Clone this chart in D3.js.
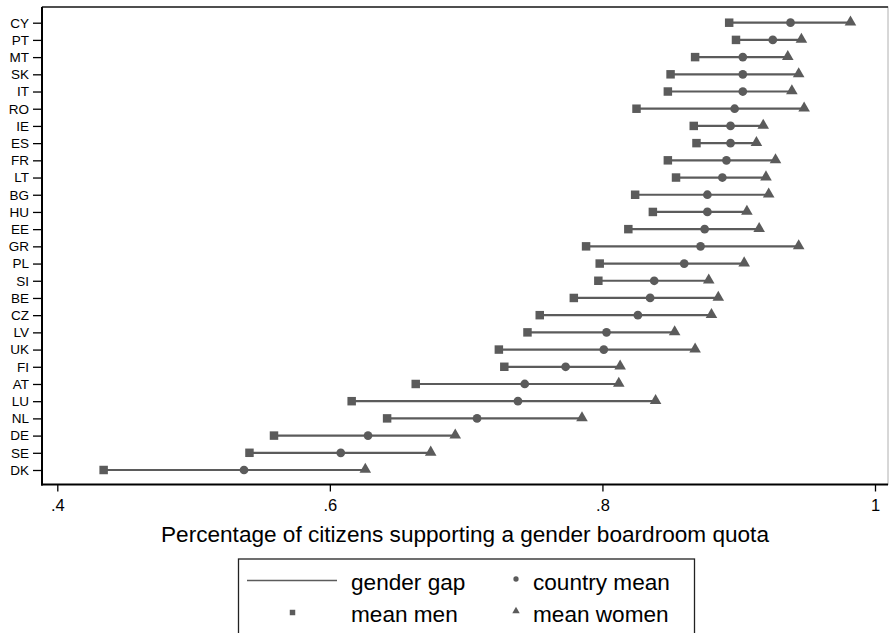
<!DOCTYPE html>
<html><head><meta charset="utf-8">
<script src="https://cdn.jsdelivr.net/npm/d3@7"></script>
<style>body{margin:0;background:#fff}svg{display:block}text{font-family:"Liberation Sans",Arial,Helvetica,sans-serif;fill:#000}</style>
</head><body><svg id="c" width="889" height="633"></svg>
<script>
const countries = ["CY","PT","MT","SK","IT","RO","IE","ES","FR","LT","BG","HU","EE","GR","PL","SI","BE","CZ","LV","UK","FI","AT","LU","NL","DE","SE","DK"];
const meanMen = [0.893,0.898,0.868,0.850,0.848,0.825,0.867,0.869,0.848,0.854,0.824,0.837,0.819,0.788,0.798,0.797,0.779,0.754,0.745,0.724,0.728,0.663,0.616,0.642,0.559,0.541,0.434];
const countryMean = [0.938,0.925,0.903,0.903,0.903,0.897,0.894,0.894,0.891,0.888,0.877,0.877,0.875,0.872,0.860,0.838,0.835,0.826,0.803,0.801,0.773,0.743,0.738,0.708,0.628,0.608,0.537];
const meanWomen = [0.982,0.946,0.936,0.944,0.939,0.948,0.918,0.913,0.927,0.920,0.922,0.906,0.915,0.944,0.904,0.878,0.885,0.880,0.853,0.868,0.813,0.812,0.839,0.785,0.692,0.674,0.626];
const xTicks = [0.4,0.6,0.8,1];
const xTickLabels = [".4",".6",".8","1"];
const xTitle = "Percentage of citizens supporting a gender boardroom quota";
const legendLabels = ["gender gap","country mean","mean men","mean women"];

const svg = d3.select("#c");
const col = "#5b5b5b";
const x = d3.scaleLinear().domain([0.4,1]).range([57.3,875]);
const y = d3.scalePoint().domain(countries).range([22.7,470]);
const L=42, R=888, T=7, B=484.5;

// frame
svg.append("rect").attr("x",L).attr("y",T).attr("width",R-L).attr("height",B-T)
  .attr("fill","#fff").attr("stroke","#b0b0b0").attr("stroke-width",1);
svg.append("line").attr("x1",L).attr("x2",R).attr("y1",T).attr("y2",T).attr("stroke","#222").attr("stroke-width",1.6);

// y axis
const yAx = svg.append("g").attr("transform",`translate(${L},0)`)
  .call(d3.axisLeft(y).tickSize(9).tickPadding(4));
yAx.select(".domain").remove();
yAx.selectAll(".tick line").attr("stroke","#000").attr("stroke-width",1.3);
yAx.selectAll(".tick text").style("font-size","13.5px").attr("fill","#000");
svg.append("line").attr("x1",L).attr("x2",L).attr("y1",T).attr("y2",B+1).attr("stroke","#000").attr("stroke-width",2);

// x axis
const xAx = svg.append("g").attr("transform",`translate(0,${B})`)
  .call(d3.axisBottom(x).tickValues(xTicks).tickFormat((d,i)=>xTickLabels[i]).tickSize(7).tickPadding(8));
xAx.select(".domain").remove();
xAx.selectAll(".tick line").attr("stroke","#000").attr("stroke-width",1.3);
xAx.selectAll(".tick text").style("font-size","16.5px").attr("fill","#000");
svg.append("line").attr("x1",L-1).attr("x2",R).attr("y1",B).attr("y2",B).attr("stroke","#000").attr("stroke-width",2);

svg.append("text").attr("x",465).attr("y",542).attr("text-anchor","middle")
  .style("font-size","22.6px").text(xTitle);

// data
const data = countries.map((c,i)=>({c,m:meanMen[i],a:countryMean[i],w:meanWomen[i]}));
const g = svg.append("g");
g.selectAll("line.gap").data(data).join("line").attr("class","gap")
  .attr("x1",d=>x(d.m)).attr("x2",d=>x(d.w)).attr("y1",d=>y(d.c)).attr("y2",d=>y(d.c))
  .attr("stroke",col).attr("stroke-width",2.2);
const sq = d3.symbol().type(d3.symbolSquare).size(72);
const ci = d3.symbol().type(d3.symbolCircle).size(60);
const tr = d3.symbol().type(d3.symbolTriangle).size(58);
g.selectAll("path.m").data(data).join("path").attr("class","m").attr("d",sq)
  .attr("transform",d=>`translate(${x(d.m)},${y(d.c)})`).attr("fill",col);
g.selectAll("path.a").data(data).join("path").attr("class","a").attr("d",ci)
  .attr("transform",d=>`translate(${x(d.a)},${y(d.c)})`).attr("fill",col);
g.selectAll("path.w").data(data).join("path").attr("class","w").attr("d",tr)
  .attr("transform",d=>`translate(${x(d.w)},${y(d.c)-0.5})`).attr("fill",col);

// legend
const lg = svg.append("g");
lg.append("rect").attr("x",238.5).attr("y",559).attr("width",456).attr("height",90)
  .attr("fill","#fff").attr("stroke","#222").attr("stroke-width",1.3);
lg.append("line").attr("x1",247).attr("x2",337).attr("y1",580.5).attr("y2",580.5).attr("stroke",col).attr("stroke-width",1.6);
lg.append("path").attr("d",d3.symbol().type(d3.symbolCircle).size(22)).attr("transform","translate(516,579)").attr("fill",col);
lg.append("path").attr("d",d3.symbol().type(d3.symbolSquare).size(30)).attr("transform","translate(292.5,612.5)").attr("fill",col);
lg.append("path").attr("d",d3.symbol().type(d3.symbolTriangle).size(24)).attr("transform","translate(516,611)").attr("fill",col);
const lpos = [[351,590],[533,590],[351,622],[533,622]];
legendLabels.forEach((t,i)=>lg.append("text").attr("x",lpos[i][0]).attr("y",lpos[i][1]).style("font-size","22.6px").text(t));
</script></body></html>
